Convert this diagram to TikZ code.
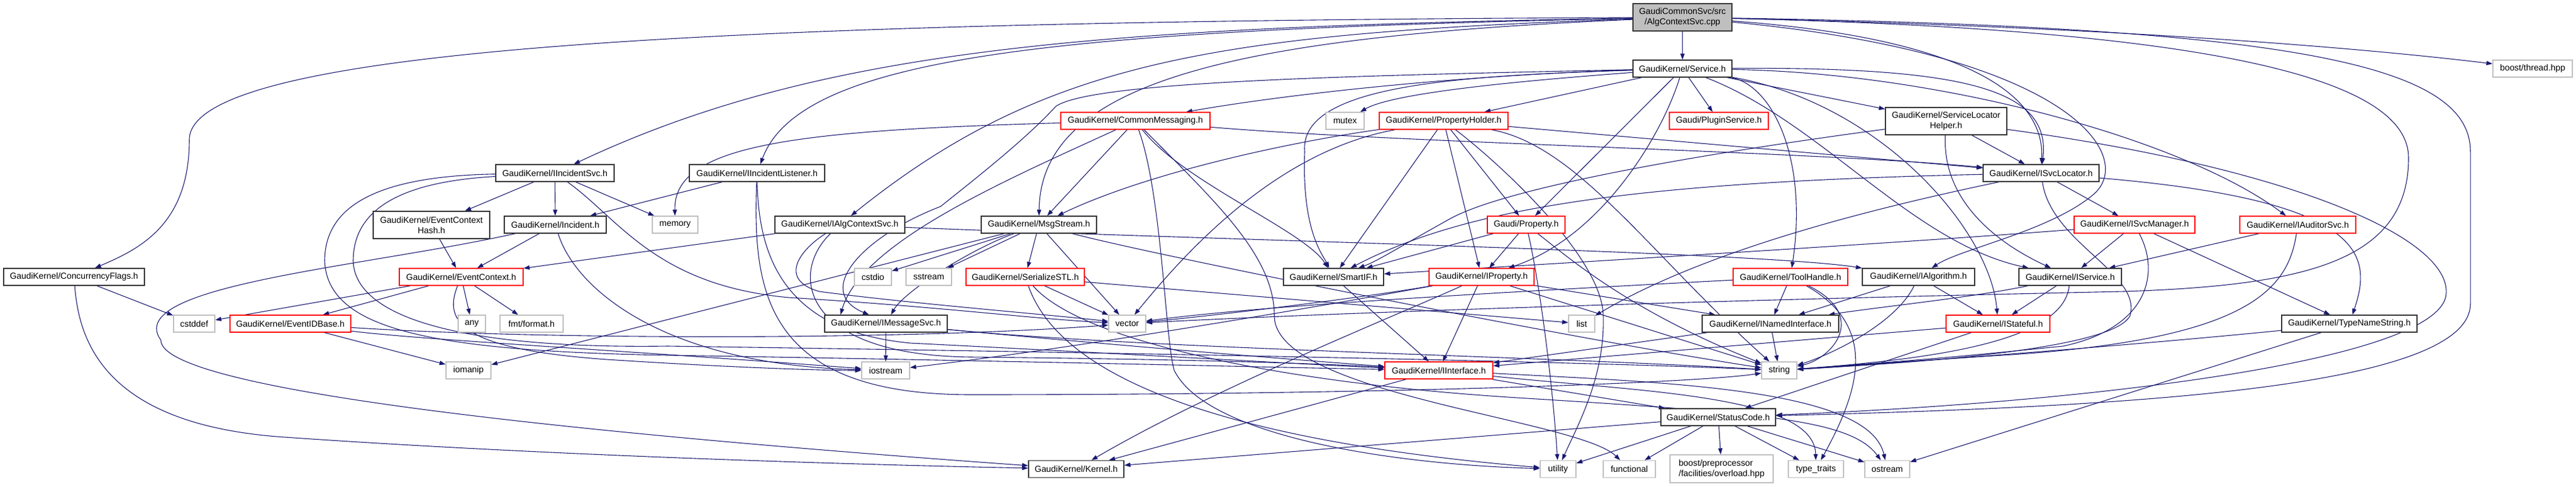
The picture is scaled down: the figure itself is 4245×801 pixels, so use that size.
\documentclass[tikz,border=0pt]{standalone}
\usepackage{fontspec}
\setmainfont{Liberation Sans}
\usepackage{tikz}
\usetikzlibrary{arrows.meta,positioning}
\definecolor{edgeblue}{HTML}{191970}
\definecolor{sysgray}{HTML}{BFBFBF}
\newcommand{\gkfont}{\fontsize{14.3}{17}\selectfont}
\pgfdeclarelayer{background}
\pgfsetlayers{background,main}
\tikzstyle{header} = [rectangle, draw=black!80, fill=white, line width=1.4pt, minimum height=28pt, inner sep=1pt, font=\gkfont, text centered, align=center]
\tikzstyle{trunc} = [rectangle, draw=red, fill=white, line width=1.4pt, minimum height=28pt, inner sep=1pt, font=\gkfont, text centered, align=center]
\tikzstyle{sysinc} = [rectangle, draw=sysgray, fill=white, line width=1.4pt, minimum height=28pt, inner sep=1pt, font=\gkfont, text centered, align=center]
\tikzstyle{rootfile} = [rectangle, draw=black!80, fill=sysgray, line width=1.4pt, minimum height=45pt, inner sep=1pt, font=\gkfont, text centered, align=center]
\tikzstyle{incl} = [draw=edgeblue, line width=1.1pt, -{Triangle[length=10pt, width=7pt]}]

\begin{document}
\begin{tikzpicture}[x=1pt, y=-1pt]
		\useasboundingbox (0,0) rectangle (4245,801);

		\node (root) [rootfile, minimum width=163pt] at (2772.5,28.5) {GaudiCommonSvc/src\\/AlgContextSvc.cpp};
		\node (service) [header, minimum width=163pt] at (2772.5,113) {GaudiKernel/Service.h};
		\node (boostthread) [sysinc, minimum width=131pt] at (4173.5,113) {boost/thread.hpp};

		\node (mutex) [sysinc, minimum width=63pt] at (2216.5,199) {mutex};
		\node (propholder) [trunc, minimum width=212pt] at (2379,199) {GaudiKernel/PropertyHolder.h};
		\node (plugin) [trunc, minimum width=163pt] at (2832.5,199) {Gaudi/PluginService.h};
		\node (slhelper) [header, minimum width=200pt, minimum height=45pt] at (3207,199.5) {GaudiKernel/ServiceLocator\\Helper.h};
		\node (commsg) [trunc, minimum width=246pt] at (1871,199) {GaudiKernel/CommonMessaging.h};

		\node (incsvc) [header, minimum width=195pt] at (914.5,285) {GaudiKernel/IIncidentSvc.h};
		\node (inclist) [header, minimum width=223pt] at (1247.5,285) {GaudiKernel/IIncidentListener.h};
		\node (svcloc) [header, minimum width=191pt] at (3363.5,285) {GaudiKernel/ISvcLocator.h};

		\node (echash) [header, minimum width=192pt, minimum height=45pt] at (711,370.5) {GaudiKernel/EventContext\\Hash.h};
		\node (incident) [header, minimum width=168pt] at (915,370) {GaudiKernel/Incident.h};
		\node (memory) [sysinc, minimum width=75pt] at (1112.5,370) {memory};
		\node (algctx) [header, minimum width=214pt] at (1384,370) {GaudiKernel/IAlgContextSvc.h};
		\node (msgstream) [header, minimum width=190pt] at (1712,370) {GaudiKernel/MsgStream.h};
		\node (property) [trunc, minimum width=128pt] at (2515,370) {Gaudi/Property.h};
		\node (svcmgr) [trunc, minimum width=199pt] at (3517.5,370) {GaudiKernel/ISvcManager.h};
		\node (auditor) [trunc, minimum width=191pt] at (3786.5,370) {GaudiKernel/IAuditorSvc.h};

		\node (concflags) [header, minimum width=232pt] at (122,456) {GaudiKernel/ConcurrencyFlags.h};
		\node (evctx) [trunc, minimum width=204pt] at (760,456) {GaudiKernel/EventContext.h};
		\node (cstdio) [sysinc, minimum width=61pt] at (1438.5,456) {cstdio};
		\node (sstream) [sysinc, minimum width=75pt] at (1530.5,456) {sstream};
		\node (serstl) [trunc, minimum width=195pt] at (1689.5,456) {GaudiKernel/SerializeSTL.h};
		\node (smartif) [header, minimum width=165pt] at (2197.5,456) {GaudiKernel/SmartIF.h};
		\node (iprop) [trunc, minimum width=173pt] at (2441.5,456) {GaudiKernel/IProperty.h};
		\node (toolh) [trunc, minimum width=189pt] at (2950.5,456) {GaudiKernel/ToolHandle.h};
		\node (ialg) [header, minimum width=185pt] at (3161.5,456) {GaudiKernel/IAlgorithm.h};
		\node (iservice) [header, minimum width=169pt] at (3411.5,456) {GaudiKernel/IService.h};

		\node (cstddef) [sysinc, minimum width=68pt] at (320,533) {cstddef};
		\node (evid) [trunc, minimum width=199pt] at (478.5,533) {GaudiKernel/EventIDBase.h};
		\node (any) [sysinc, minimum width=45pt] at (777.5,533) {any};
		\node (fmt) [sysinc, minimum width=104pt] at (876,533) {fmt/format.h};
		\node (imsg) [header, minimum width=202pt] at (1460,533) {GaudiKernel/IMessageSvc.h};
		\node (vector) [sysinc, minimum width=61pt] at (1857.5,533) {vector};
		\node (list) [sysinc, minimum width=43pt] at (2606.5,533) {list};
		\node (inamed) [header, minimum width=225pt] at (2917.5,533) {GaudiKernel/INamedInterface.h};
		\node (istate) [trunc, minimum width=171pt] at (3292.5,533) {GaudiKernel/IStateful.h};
		\node (typename) [header, minimum width=223pt] at (3871.5,533) {GaudiKernel/TypeNameString.h};

		\node (iomanip) [sysinc, minimum width=74pt] at (772,610) {iomanip};
		\node (iostream) [sysinc, minimum width=79pt] at (1459.5,610) {iostream};
		\node (iiface) [trunc, minimum width=178pt] at (2371,610) {GaudiKernel/IInterface.h};
		\node (string) [sysinc, minimum width=58pt] at (2932,610) {string};

		\node (status) [header, minimum width=189pt] at (2831.5,687) {GaudiKernel/StatusCode.h};

		\node (kernel) [header, minimum width=157pt] at (1773.5,772.5) {GaudiKernel/Kernel.h};
		\node (utility) [sysinc, minimum width=59pt] at (2567.5,772.5) {utility};
		\node (functional) [sysinc, minimum width=86pt] at (2685,772.5) {functional};
		\node (boostpp) [sysinc, minimum width=170pt, minimum height=46pt, align=left] at (2837,772) {boost/preprocessor\\/facilities/overload.hpp};
		\node (typetraits) [sysinc, minimum width=91pt] at (2992.5,772.5) {type\_traits};
		\node (ostream) [sysinc, minimum width=74pt] at (3110,772.5) {ostream};

		\begin{pgfonlayer}{background}
		\draw [incl] (root) -- (service);
		\draw [incl] (root) .. controls (1300,35) and (312,70) .. (312,230) .. controls (312,370) and (230,410) .. (concflags);
		\draw [incl] (root) .. controls (1800,45) and (1350,80) .. (incsvc);
		\draw [incl] (root) .. controls (1750,50) and (1320,90) .. (inclist);
		\draw [incl] (root) .. controls (2000,55) and (1720,100) .. (algctx);
		\draw [incl] (root) .. controls (2050,60) and (1715,130) .. (msgstream);
		\draw [incl] (root) .. controls (3200,60) and (3370,140) .. (svcloc);
		\draw [incl] (root) .. controls (3420,90) and (3520,260) .. (3450,320) .. controls (3380,380) and (3230,410) .. (ialg);
		\draw [incl] (root) .. controls (3500,45) and (3900,80) .. (boostthread);
		\draw [incl] (root) .. controls (3800,45) and (4071,110) .. (4071,250) -- (4071,500) .. controls (4071,640) and (3500,670) .. (status);
		\draw [incl] (root) .. controls (3700,50) and (3969,140) .. (3969,260) .. controls (3969,430) and (3800,470) .. (3500,480) .. controls (2800,495) and (2200,515) .. (vector);

		\draw [incl] (service) .. controls (2450,122) and (2150,150) .. (commsg);
		\draw [incl] (service) .. controls (2550,130) and (2300,150) .. (mutex);
		\draw [incl] (service) -- (propholder);
		\draw [incl] (service) -- (plugin);
		\draw [incl] (service) -- (slhelper);
		\draw [incl] (service) -- (property);
		\draw [incl] (service) .. controls (2740,220) and (2640,390) .. (iprop);
		\draw [incl] (service) .. controls (2920,140) and (2980,260) .. (toolh);
		\draw [incl] (service) .. controls (3250,110) and (3380,150) .. (svcloc);
		\draw [incl] (service) .. controls (3000,200) and (3150,400) .. (iservice);
		\draw [incl] (service) .. controls (3100,170) and (3280,380) .. (istate);
		\draw [incl] (service) .. controls (3200,120) and (3600,230) .. (auditor);
		\draw [incl] (service) .. controls (2400,125) and (2140,140) .. (2150,250) .. controls (2145,380) and (2180,420) .. (smartif);
		\draw [incl] (service) .. controls (2200,125) and (1800,135) .. (1740,175) .. controls (1690,230) and (1600,300) .. (1550,340) .. controls (1420,390) and (1340,480) .. ([xshift=-28pt]imsg.north);

		\draw [incl] (commsg) .. controls (1300,215) and (1110,240) .. (memory);
		\draw [incl] (commsg) -- (msgstream);
		\draw [incl] (commsg) .. controls (1650,300) and (1420,400) .. ([xshift=-75pt]imsg.north);
		\draw [incl] (commsg) .. controls (1950,300) and (2150,380) .. (smartif);
		\draw [incl] (commsg) .. controls (1915,320) and (1920,560) .. (1935,610) .. controls (1990,720) and (2300,765) .. (utility);
		\draw [incl] (commsg) .. controls (2300,235) and (3000,250) .. (svcloc);
		\draw [incl] (commsg) .. controls (2000,330) and (2100,420) .. (2100,520) .. controls (2100,650) and (2600,690) .. (functional);

		\draw [incl] (msgstream) -- (cstdio);
		\draw [incl] (msgstream) -- (sstream);
		\draw [incl] (msgstream) -- (serstl);
		\draw [incl] (msgstream) -- (iomanip);
		\draw [incl] (msgstream) .. controls (1600,410) and (1490,480) .. (imsg);
		\draw [incl] (msgstream) .. controls (1900,420) and (2600,560) .. (string);
		\draw [incl] (msgstream) -- (vector);

		\draw [incl] (serstl) -- (vector);
		\draw [incl] (serstl) -- (list);
		\draw [incl] (serstl) .. controls (1740,600) and (1950,720) .. (utility);
		\draw [incl] (serstl) .. controls (1780,560) and (2100,630) .. (2500,655) .. controls (2900,680) and (3050,690) .. (ostream);

		\draw [incl] (imsg) -- (iostream);
		\draw [incl] (imsg) .. controls (1800,565) and (2100,590) .. (iiface);
		\draw [incl] (imsg) .. controls (1900,575) and (2500,585) .. (string);

		\draw [incl] (algctx) -- (evctx);
		\draw [incl] (algctx) .. controls (2000,395) and (2900,415) .. (ialg);
		\draw [incl] (algctx) .. controls (1320,410) and (1280,460) .. (1350,480) .. controls (1500,500) and (1750,520) .. (vector);
		\draw [incl] (algctx) .. controls (1300,450) and (1320,585) .. (1600,588) .. controls (2000,592) and (2200,600) .. (iiface);

		\draw [incl] (inclist) -- (incident);
		\draw [incl] (inclist) .. controls (1250,420) and (1290,545) .. (1500,565) .. controls (1900,585) and (2150,600) .. (iiface);
		\draw [incl] (inclist) .. controls (1240,480) and (1260,650) .. (1600,650) .. controls (2300,650) and (2800,630) .. (string);

		\draw [incl] (incsvc) -- (echash);
		\draw [incl] (incsvc) -- (incident);
		\draw [incl] (incsvc) -- (memory);
		\draw [incl] (incsvc) .. controls (620,290) and (535,340) .. (535,430) .. controls (540,540) and (700,578) .. (1100,585) .. controls (1700,595) and (2100,605) .. (iiface);
		\draw [incl] (incsvc) .. controls (650,300) and (582,350) .. (582,430) .. controls (585,520) and (750,575) .. (1100,570) .. controls (1800,580) and (2600,595) .. (string);
		\draw [incl] (incsvc) .. controls (1020,360) and (1080,470) .. (1300,490) .. controls (1550,505) and (1700,525) .. (vector);

		\draw [incl] (incident) -- (evctx);
		\draw [incl] (incident) .. controls (600,440) and (200,470) .. (265,560) .. controls (265,640) and (900,710) .. (kernel);
		\draw [incl] (incident) .. controls (950,480) and (1100,600) .. (iostream);
		\draw [incl] (echash) -- (evctx);

		\draw [incl] (evctx) -- (cstddef);
		\draw [incl] (evctx) -- (evid);
		\draw [incl] (evctx) -- (any);
		\draw [incl] (evctx) -- (fmt);
		\draw [incl] (evctx) .. controls (730,530) and (760,575) .. (1000,592) .. controls (1200,605) and (1350,610) .. (iostream);

		\draw [incl] (evid) -- (iomanip);
		\draw [incl] (evid) .. controls (700,560) and (1000,575) .. (iostream);
		\draw [incl] (evid) .. controls (900,560) and (1500,560) .. (vector);

		\draw [incl] (concflags) -- (cstddef);
		\draw [incl] (concflags) .. controls (130,560) and (170,700) .. (470,720) .. controls (900,750) and (1400,765) .. (kernel);

		\draw [incl] (property) -- (iprop);
		\draw [incl] (property) .. controls (2540,480) and (2560,650) .. (utility);
		\draw [incl] (property) .. controls (2580,420) and (2680,510) .. (string);
		\draw [incl] (property) -- (smartif);

		\draw [incl] (propholder) -- (property);
		\draw [incl] (propholder) -- (iprop);
		\draw [incl] (propholder) -- (smartif);
		\draw [incl] (propholder) .. controls (2460,260) and (2640,420) .. (2642,520) .. controls (2645,620) and (2600,700) .. (utility);
		\draw [incl] (propholder) -- (svcloc);
		\draw [incl] (propholder) .. controls (2600,240) and (2720,420) .. (string);
		\draw [incl] (propholder) .. controls (2150,230) and (1900,280) .. (msgstream);
		\draw [incl] (propholder) .. controls (2100,250) and (1950,420) .. (vector);

		\draw [incl] (iprop) -- (iiface);
		\draw [incl] (iprop) -- (string);
		\draw [incl] (iprop) -- (inamed);
		\draw [incl] (iprop) .. controls (2250,490) and (2000,520) .. (vector);
		\draw [incl] (iprop) .. controls (2300,520) and (2000,640) .. (kernel);
		\draw [incl] (iprop) .. controls (2200,500) and (1800,570) .. (iostream);
		\draw [incl] (smartif) -- (iiface);

		\draw [incl] (toolh) -- (inamed);
		\draw [incl] (toolh) .. controls (3080,520) and (3020,590) .. (string);
		\draw [incl] (toolh) .. controls (3100,540) and (3060,650) .. (typetraits);
		\draw [incl] (toolh) .. controls (2600,475) and (2100,500) .. (vector);

		\draw [incl] (ialg) -- (inamed);
		\draw [incl] (ialg) -- (istate);
		\draw [incl] (ialg) .. controls (3120,540) and (3000,590) .. (string);

		\draw [incl] (iservice) -- (istate);
		\draw [incl] (iservice) .. controls (3250,490) and (3100,505) .. (inamed);
		\draw [incl] (iservice) .. controls (3400,560) and (3200,590) .. (string);

		\draw [incl] (inamed) -- (iiface);
		\draw [incl] (inamed) -- (string);
		\draw [incl] (istate) -- (iiface);
		\draw [incl] (istate) -- (status);

		\draw [incl] (svcloc) -- (svcmgr);
		\draw [incl] (svcloc) .. controls (3900,330) and (3910,420) .. (typename);
		\draw [incl] (svcloc) .. controls (3150,330) and (2830,400) .. (list);
		\draw [incl] (svcloc) .. controls (3380,400) and (3530,450) .. (3510,520) .. controls (3480,580) and (3100,600) .. (string);
		\draw [incl] (svcloc) .. controls (2700,300) and (2420,340) .. (smartif);

		\draw [incl] (slhelper) -- (svcloc);
		\draw [incl] (slhelper) .. controls (2900,240) and (2500,300) .. (2390,360) .. controls (2300,410) and (2270,430) .. (smartif);
		\draw [incl] (slhelper) .. controls (3800,280) and (4050,400) .. (4030,490) .. controls (4000,600) and (3400,665) .. (status);
		\draw [incl] (slhelper) .. controls (3200,330) and (3290,400) .. (iservice);

		\draw [incl] (svcmgr) -- (iservice);
		\draw [incl] (svcmgr) -- (typename);
		\draw [incl] (svcmgr) .. controls (3200,395) and (2800,420) .. (smartif);
		\draw [incl] (svcmgr) .. controls (3560,450) and (3540,540) .. (3400,570) .. controls (3200,590) .. (string);

		\draw [incl] (auditor) -- (iservice);
		\draw [incl] (auditor) .. controls (3770,480) and (3700,560) .. (3300,585) .. controls (3100,598) .. (string);

		\draw [incl] (typename) .. controls (3500,570) and (3100,600) .. (string);
		\draw [incl] (typename) -- (ostream);

		\draw [incl] (iiface) -- (kernel);
		\draw [incl] (iiface) -- (status);
		\draw [incl] (iiface) .. controls (2700,645) and (2990,650) .. (typetraits);
		\draw [incl] (iiface) .. controls (2750,630) and (3080,640) .. (ostream);

		\draw [incl] (status) -- (utility);
		\draw [incl] (status) -- (functional);
		\draw [incl] (status) -- (boostpp);
		\draw [incl] (status) -- (typetraits);
		\draw [incl] (status) -- (ostream);
		\draw [incl] (status) -- (kernel);
		\end{pgfonlayer}

		\end{tikzpicture}
\end{document}
